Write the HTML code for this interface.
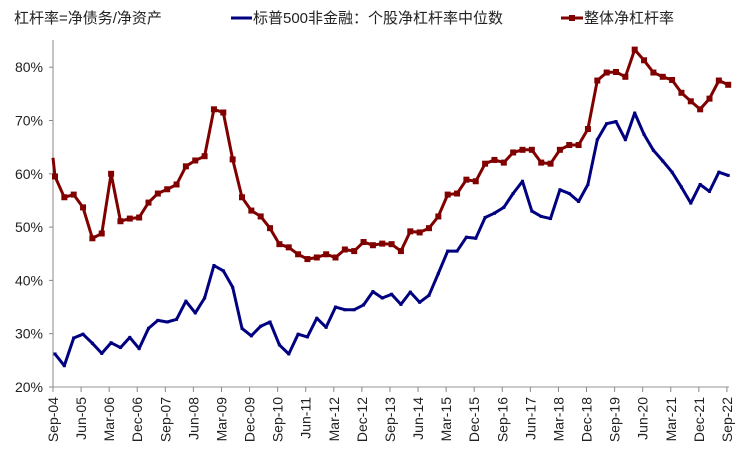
<!DOCTYPE html>
<html><head><meta charset="utf-8"><style>
body{margin:0;background:#fff;}
svg{display:block;font-family:"Liberation Sans","Noto Sans CJK SC",sans-serif;}
</style></head><body>
<svg id="c" width="750" height="463" viewBox="0 0 750 463" xmlns="http://www.w3.org/2000/svg">
<rect width="750" height="463" fill="#fff"/>
<text x="14" y="23" font-size="15" fill="#222">杠杆率=净债务/净资产</text>
<line x1="231" y1="18" x2="252" y2="18" stroke="#000080" stroke-width="3"/>
<rect x="239.5" y="16.5" width="3" height="3" fill="#000080"/>
<text x="253" y="23" font-size="15" fill="#222">标普500非金融：个股净杠杆率中位数</text>
<line x1="561" y1="18" x2="583" y2="18" stroke="#800000" stroke-width="3"/>
<rect x="569" y="15" width="6" height="6" fill="#800000"/>
<text x="584" y="23" font-size="15" fill="#222">整体净杠杆率</text>
<g id="ax"></g>
</svg>
<script>
var g=document.getElementById('ax'),s='';
function Y(v){return 387-(v-20)*5.33;}
function X(i){return 55+i*9.35;}
s+='<line x1="53" y1="40" x2="53" y2="387" stroke="#888" stroke-width="1"/>';
s+='<line x1="53" y1="387" x2="729" y2="387" stroke="#aaa" stroke-width="1.2"/>';
for(var v=20;v<=80;v+=10){var y=Y(v);s+='<line x1="49" y1="'+y+'" x2="53" y2="'+y+'" stroke="#888"/>';
s+='<text x="43" y="'+(y+5)+'" font-size="14" text-anchor="end" fill="#222">'+v+'%</text>';}
var labs=["Sep-04","Jun-05","Mar-06","Dec-06","Sep-07","Jun-08","Mar-09","Dec-09","Sep-10","Jun-11","Mar-12","Dec-12","Sep-13","Jun-14","Mar-15","Dec-15","Sep-16","Jun-17","Mar-18","Dec-18","Sep-19","Jun-20","Mar-21","Dec-21","Sep-22"];
for(var k=0;k<25;k++){var x=53+k*28.08;s+='<line x1="'+x+'" y1="387" x2="'+x+'" y2="392" stroke="#888"/>';
s+='<text transform="translate('+(x+5)+',397) rotate(-90)" font-size="14" text-anchor="end" fill="#222">'+labs[k]+'</text>';}
var b=[26.2,24.0,29.2,29.9,28.2,26.3,28.3,27.4,29.3,27.2,31.0,32.5,32.2,32.7,36.1,33.9,36.7,42.8,41.8,38.7,31.0,29.6,31.4,32.2,27.9,26.2,29.9,29.4,32.9,31.2,35.0,34.5,34.5,35.4,37.9,36.7,37.4,35.5,37.8,35.9,37.2,41.3,45.5,45.5,48.1,47.9,51.8,52.6,53.7,56.3,58.6,53.0,52.0,51.6,57.0,56.3,54.8,58.0,66.4,69.4,69.8,66.4,71.4,67.4,64.4,62.4,60.3,57.5,54.5,58.0,56.7,60.3,59.7];
var r=[59.5,55.6,56.1,53.7,47.9,48.8,60.0,51.1,51.6,51.8,54.6,56.3,57.1,58.0,61.4,62.5,63.3,72.1,71.5,62.7,55.6,53.1,52.0,49.8,46.8,46.2,44.9,44.0,44.3,44.9,44.3,45.8,45.5,47.2,46.6,46.9,46.8,45.5,49.2,49.0,49.8,52.0,56.1,56.3,58.9,58.6,61.9,62.6,62.1,64.0,64.5,64.5,62.1,61.9,64.5,65.4,65.4,68.4,77.5,79.0,79.1,78.2,83.3,81.3,79.0,78.2,77.6,75.2,73.6,72.1,74.1,77.5,76.7];
var pr='53,'+Y(63),pb='';
for(var i=0;i<73;i++){pr+=' '+X(i).toFixed(1)+','+Y(r[i]).toFixed(1);pb+=' '+X(i).toFixed(1)+','+Y(b[i]).toFixed(1);}
s+='<polyline points="'+pr+'" fill="none" stroke="#800000" stroke-width="3" stroke-linejoin="round"/>';
s+='<polyline points="'+pb+'" fill="none" stroke="#000080" stroke-width="3" stroke-linejoin="round"/>';
for(i=0;i<73;i++){s+='<rect x="'+(X(i)-3)+'" y="'+(Y(r[i])-3)+'" width="6" height="6" fill="#800000"/>';
s+='<rect x="'+(X(i)-1.5)+'" y="'+(Y(b[i])-1.5)+'" width="3" height="3" fill="#000080"/>';}
g.innerHTML=s;
</script>
</body></html>
